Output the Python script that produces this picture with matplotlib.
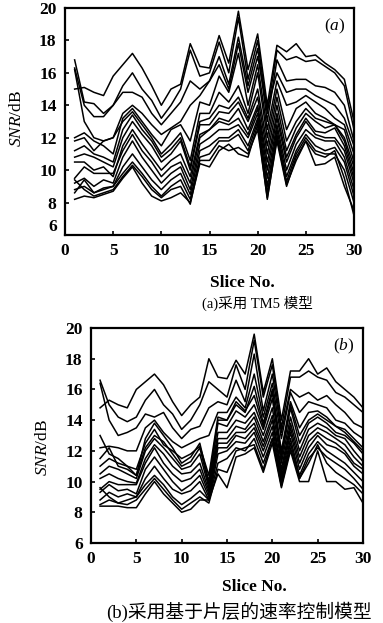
import matplotlib.pyplot as plt

plt.rcParams['font.family'] = ['Liberation Serif', 'Noto Sans CJK SC']
plt.rcParams['mathtext.fontset'] = 'custom'
plt.rcParams['mathtext.it'] = 'Liberation Serif:italic'
plt.rcParams['mathtext.rm'] = 'Liberation Serif'

# numero de corte (slice)
cortes = list(range(1, 31))

# (a) modelo TM5
snr_a1 = [15.0, 15.1, 14.8, 14.6, 15.8, 16.5, 17.2, 16.3, 15.2, 14.0, 15.0, 15.3, 17.8, 16.4, 16.3, 18.3, 16.6, 19.8, 16.2, 18.4, 14.0, 17.7, 17.3, 17.8, 17.0, 17.1, 16.6, 16.2, 15.6, 13.0]
snr_a2 = [16.8, 14.2, 14.1, 13.5, 14.0, 15.2, 16.0, 15.0, 14.3, 13.2, 14.0, 15.0, 17.4, 15.8, 16.0, 17.9, 16.0, 19.4, 15.6, 18.0, 13.5, 17.4, 16.8, 17.0, 16.7, 16.8, 16.4, 16.0, 15.2, 12.5]
snr_a3 = [16.3, 14.0, 13.3, 13.3, 14.0, 14.8, 14.8, 14.5, 13.5, 12.8, 13.5, 14.2, 15.5, 15.0, 15.5, 17.0, 15.3, 18.2, 15.2, 17.5, 13.0, 16.8, 15.5, 15.6, 15.6, 15.2, 15.1, 14.8, 14.0, 11.8]
snr_a4 = [16.2, 13.0, 12.0, 11.8, 12.0, 13.5, 14.0, 13.5, 12.8, 12.2, 12.6, 13.0, 14.0, 14.6, 15.5, 16.5, 15.0, 17.8, 14.8, 17.0, 13.8, 16.0, 14.8, 15.0, 15.0, 14.6, 14.3, 14.0, 13.2, 11.5]
snr_a5 = [12.0, 12.3, 11.8, 11.5, 11.0, 13.2, 13.8, 13.0, 12.2, 11.5, 12.5, 12.8, 11.8, 14.2, 14.0, 15.8, 14.8, 17.2, 14.0, 16.5, 12.5, 15.5, 14.0, 14.2, 14.6, 14.2, 13.8, 13.2, 12.8, 11.0]
snr_a6 = [11.8, 12.0, 11.2, 11.8, 12.0, 13.0, 13.6, 12.8, 12.0, 11.0, 11.6, 12.3, 10.6, 13.5, 13.5, 14.8, 14.2, 15.2, 13.5, 16.0, 12.0, 15.0, 12.5, 13.8, 14.2, 13.5, 13.2, 12.8, 12.5, 10.5]
snr_a7 = [11.2, 11.5, 11.0, 10.8, 10.5, 12.5, 13.4, 12.5, 11.8, 10.8, 11.3, 12.0, 10.2, 13.0, 13.2, 14.0, 13.8, 14.5, 13.2, 15.0, 11.5, 14.5, 11.8, 13.0, 13.8, 13.2, 13.0, 12.8, 12.0, 10.2]
snr_a8 = [10.8, 11.0, 10.8, 10.5, 10.2, 12.0, 13.0, 12.2, 11.5, 10.5, 11.0, 11.8, 10.0, 12.8, 12.8, 13.6, 13.5, 14.2, 13.0, 14.5, 11.0, 14.0, 11.2, 12.6, 13.5, 13.0, 12.6, 12.8, 11.8, 9.8]
snr_a9 = [10.5, 10.5, 10.0, 10.2, 9.6, 11.5, 12.5, 11.6, 10.8, 10.0, 10.6, 11.0, 9.6, 12.2, 12.5, 13.2, 13.0, 13.8, 12.5, 14.0, 10.5, 13.5, 10.8, 12.2, 13.2, 12.4, 12.3, 12.6, 11.5, 9.5]
snr_a10 = [9.5, 10.2, 9.8, 9.8, 9.8, 11.2, 12.2, 11.2, 10.5, 9.6, 10.2, 10.5, 9.2, 12.0, 12.5, 13.0, 12.8, 13.2, 12.2, 13.8, 10.0, 13.2, 10.5, 12.0, 13.0, 12.2, 12.0, 12.0, 11.2, 9.2]
snr_a11 = [9.2, 9.5, 9.0, 9.4, 9.2, 10.8, 11.8, 10.8, 10.0, 9.2, 9.8, 10.2, 8.8, 11.6, 12.0, 12.5, 12.5, 12.8, 12.0, 13.5, 9.5, 12.8, 10.0, 11.6, 12.5, 12.0, 11.8, 11.8, 10.8, 8.8]
snr_a12 = [8.8, 9.0, 8.6, 8.9, 9.0, 10.2, 11.0, 10.2, 9.4, 8.8, 9.4, 9.8, 8.5, 11.2, 11.5, 12.0, 12.0, 12.5, 11.5, 13.2, 9.0, 12.5, 9.6, 11.2, 12.2, 11.5, 11.2, 11.4, 10.5, 8.4]
snr_a13 = [8.6, 9.4, 8.6, 8.8, 9.0, 9.8, 10.5, 9.8, 9.0, 8.4, 9.0, 9.4, 8.2, 10.8, 11.0, 11.8, 11.8, 12.2, 11.2, 13.0, 8.6, 12.2, 9.3, 11.0, 12.0, 11.2, 11.0, 11.0, 10.0, 8.0]
snr_a14 = [8.2, 8.4, 8.3, 8.5, 8.7, 9.5, 10.2, 9.2, 8.4, 8.1, 8.3, 8.6, 8.0, 10.4, 10.2, 11.2, 11.6, 11.0, 10.8, 12.8, 8.2, 12.0, 9.1, 10.6, 11.8, 10.3, 10.4, 10.8, 9.0, 7.5]
snr_a15 = [9.4, 8.8, 8.4, 8.6, 8.8, 9.6, 10.3, 9.6, 8.8, 8.3, 8.8, 9.0, 7.9, 10.6, 10.6, 11.5, 11.2, 11.4, 11.0, 12.5, 8.3, 11.8, 9.0, 10.8, 11.8, 11.0, 10.8, 11.2, 9.5, 7.2]

# (b) modelo de control de tasa por capas
snr_b1 = [14.8, 15.3, 15.0, 14.8, 16.0, 16.5, 17.0, 16.3, 15.2, 14.3, 15.0, 15.5, 18.0, 16.8, 16.7, 17.9, 17.0, 19.6, 15.8, 18.0, 14.0, 17.2, 17.2, 18.0, 17.0, 17.4, 16.5, 16.0, 15.5, 14.8]
snr_b2 = [16.6, 15.0, 14.2, 13.9, 14.2, 15.3, 16.0, 15.0, 14.4, 13.4, 14.0, 15.0, 16.5, 16.0, 15.5, 17.6, 16.0, 19.2, 15.5, 17.6, 13.5, 16.8, 16.8, 17.2, 16.8, 16.6, 15.8, 15.5, 15.0, 14.5]
snr_b3 = [16.4, 14.0, 13.0, 13.2, 13.5, 14.4, 14.2, 14.5, 13.5, 12.8, 13.4, 13.6, 14.8, 15.2, 15.0, 16.6, 15.2, 18.3, 14.6, 17.0, 13.2, 16.0, 15.5, 15.8, 15.3, 15.6, 15.0, 14.5, 13.8, 13.5]
snr_b4 = [12.2, 12.3, 12.2, 12.0, 12.0, 13.5, 14.0, 13.2, 12.6, 12.2, 12.5, 12.8, 13.0, 14.5, 14.5, 15.5, 14.8, 17.0, 14.2, 16.4, 12.8, 15.8, 14.5, 15.2, 15.0, 14.8, 14.0, 13.8, 13.2, 12.8]
snr_b5 = [11.5, 12.2, 11.0, 10.8, 10.4, 12.8, 13.8, 13.0, 12.2, 11.2, 11.6, 12.5, 10.0, 14.0, 14.0, 15.0, 14.5, 16.2, 13.8, 16.0, 12.0, 15.2, 13.5, 14.5, 14.6, 14.2, 13.6, 13.4, 12.8, 12.2]
snr_b6 = [11.0, 11.5, 11.2, 11.0, 10.4, 12.2, 13.0, 12.6, 11.8, 11.0, 11.3, 12.2, 9.8, 13.8, 13.6, 14.6, 14.2, 15.0, 13.4, 15.4, 11.5, 14.8, 12.5, 13.8, 14.2, 13.8, 13.2, 13.0, 12.5, 11.8]
snr_b7 = [10.5, 11.0, 10.8, 10.5, 10.2, 12.0, 12.8, 12.2, 11.5, 10.8, 11.0, 11.8, 9.6, 13.2, 13.2, 14.0, 13.8, 14.5, 13.0, 14.8, 11.2, 14.2, 12.0, 13.4, 13.8, 13.5, 13.0, 12.8, 12.0, 11.3]
snr_b8 = [10.2, 10.5, 10.2, 10.0, 9.9, 11.5, 12.4, 11.8, 11.0, 10.5, 10.6, 11.2, 9.4, 12.8, 12.8, 13.6, 13.4, 14.2, 12.6, 14.3, 10.8, 13.8, 11.6, 13.0, 13.5, 13.2, 12.8, 12.4, 11.6, 11.0]
snr_b9 = [9.5, 10.0, 9.8, 9.8, 9.8, 11.2, 12.2, 11.2, 10.5, 10.0, 10.2, 10.8, 9.2, 12.5, 12.5, 13.2, 13.2, 13.8, 12.3, 14.0, 10.5, 13.5, 11.2, 12.6, 13.2, 12.8, 12.5, 12.0, 11.2, 10.8]
snr_b10 = [9.3, 9.8, 9.4, 9.5, 9.2, 10.8, 11.6, 10.8, 10.0, 9.4, 9.8, 10.4, 9.0, 12.2, 12.2, 13.0, 12.8, 13.5, 12.0, 13.6, 10.2, 13.2, 10.8, 12.2, 13.0, 12.4, 12.2, 11.8, 11.0, 10.5]
snr_b11 = [8.8, 9.3, 9.0, 9.2, 9.0, 10.2, 11.0, 10.2, 9.5, 9.2, 9.4, 10.0, 8.8, 11.8, 12.0, 12.6, 12.5, 13.2, 11.6, 13.2, 10.0, 12.8, 10.4, 11.8, 12.6, 12.0, 11.6, 11.2, 10.6, 10.0]
snr_b12 = [8.5, 8.8, 8.6, 8.8, 9.0, 9.8, 10.4, 9.8, 9.0, 8.5, 8.9, 9.4, 8.8, 11.2, 11.5, 12.2, 12.0, 12.8, 11.2, 12.8, 9.8, 12.5, 10.2, 11.5, 12.2, 11.6, 11.2, 10.8, 10.2, 9.5]
snr_b13 = [8.4, 8.4, 8.4, 8.3, 8.3, 9.2, 10.0, 9.2, 8.6, 8.0, 8.2, 8.8, 8.8, 10.5, 9.6, 11.6, 11.8, 12.2, 10.6, 12.5, 9.6, 12.0, 10.0, 10.0, 12.0, 10.0, 10.0, 9.5, 9.6, 8.6]
snr_b14 = [9.6, 9.0, 8.6, 8.5, 8.8, 9.5, 10.2, 9.5, 8.8, 8.2, 8.6, 9.0, 8.6, 10.8, 10.6, 12.0, 12.2, 12.4, 10.8, 12.8, 9.7, 12.2, 10.2, 11.2, 12.4, 11.2, 10.6, 10.2, 9.8, 9.2]
snr_b15 = [13.0, 11.8, 11.5, 11.0, 10.8, 12.5, 13.4, 12.4, 12.0, 11.5, 11.8, 12.3, 10.4, 14.2, 14.0, 15.2, 14.6, 15.6, 13.6, 15.8, 11.8, 15.0, 13.0, 14.0, 14.4, 14.0, 13.6, 13.2, 12.6, 12.0]

series_a = [snr_a1, snr_a2, snr_a3, snr_a4, snr_a5, snr_a6, snr_a7, snr_a8,
            snr_a9, snr_a10, snr_a11, snr_a12, snr_a13, snr_a14, snr_a15]
series_b = [snr_b1, snr_b2, snr_b3, snr_b4, snr_b5, snr_b6, snr_b7, snr_b8,
            snr_b9, snr_b10, snr_b11, snr_b12, snr_b13, snr_b14, snr_b15]

xticks = [0, 5, 10, 15, 20, 25, 30]
yticks = [6, 8, 10, 12, 14, 16, 18, 20]

W, H = 383, 623
fig = plt.figure(figsize=(W / 100, H / 100), dpi=100)

ax_a = fig.add_axes([65 / W, 1 - 235 / H, 289 / W, 227 / H])
ax_b = fig.add_axes([91 / W, 1 - 543 / H, 272 / W, 215 / H])


def dibujar(ax, series, etiqueta):
    for s in series:
        ax.plot(cortes, s, color='black', lw=1.1)
    ax.set_xlim(0, 30)
    ax.set_ylim(6, 20)
    ax.set_xticks(xticks)
    ax.set_yticks(yticks)
    ax.tick_params(direction='in', length=3, width=1.2, labelsize=12.5, pad=6,
                   top=False, right=False)
    for lab in ax.get_xticklabels() + ax.get_yticklabels():
        lab.set_fontweight('bold')
    for sp in ax.spines.values():
        sp.set_linewidth(1.6)
    ax.text(0.97, 0.96, etiqueta, transform=ax.transAxes, ha='right', va='top',
            fontsize=12.5)


dibujar(ax_a, series_a, r'($\mathit{a}$)')
dibujar(ax_b, series_b, r'($\mathit{b}$)')
ax_a.get_yticklabels()[0].set_va('bottom')

# etiquetas de ejes y titulos
fig.text(17 / W, 1 - 118 / H, r'$\mathit{SNR}$/dB', rotation=90, ha='center', va='center', fontsize=12.5)
fig.text(43 / W, 1 - 447 / H, r'$\mathit{SNR}$/dB', rotation=90, ha='center', va='center', fontsize=12.5)
fig.text(242 / W, 1 - 283 / H, 'Slice No.', ha='center', va='center', fontsize=12.5, fontweight='bold')
fig.text(254 / W, 1 - 587 / H, 'Slice No.', ha='center', va='center', fontsize=12.5, fontweight='bold')
fig.text(257 / W, 1 - 303 / H, '(a)采用 TM5 模型', ha='center', va='center', fontsize=10.5)
fig.text(239 / W, 1 - 612 / H, '(b)采用基于片层的速率控制模型', ha='center', va='center', fontsize=13.5)

plt.savefig('out.png', dpi=100)
